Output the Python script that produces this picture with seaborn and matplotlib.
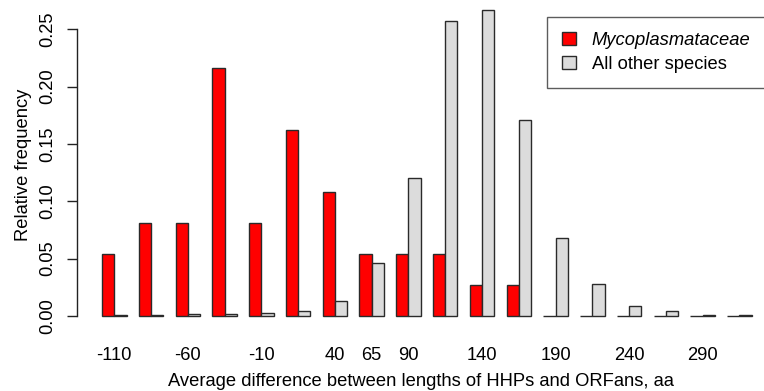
import matplotlib
matplotlib.use("Agg")
import matplotlib.pyplot as plt
import seaborn as sns
import pandas as pd

categories = ['-110', '-85', '-60', '-35', '-10', '15', '40', '65', '90',
              '115', '140', '165', '190', '215', '240', '265', '290', '315']
myco = [0.054, 0.081, 0.081, 0.216, 0.081, 0.162, 0.108, 0.054, 0.054,
        0.054, 0.027, 0.027, 0.0, 0.0, 0.0, 0.0, 0.0, 0.0]
other = [0.001, 0.001, 0.002, 0.002, 0.003, 0.004, 0.013, 0.046, 0.120,
         0.257, 0.267, 0.171, 0.068, 0.028, 0.009, 0.004, 0.001, 0.001]
series_names = ['Mycoplasmataceae', 'All other species']
shown_labels = ['-110', '-60', '-10', '40', '65', '90', '140', '190', '240', '290']
yticks = [0.00, 0.05, 0.10, 0.15, 0.20, 0.25]

plt.rcParams['font.family'] = ['Liberation Sans', 'DejaVu Sans']
FS = 13.2

df = pd.DataFrame({
    'cat': categories * 2,
    'val': myco + other,
    'group': [series_names[0]] * len(categories) + [series_names[1]] * len(categories),
})

W, H = 764, 391
fig = plt.figure(figsize=(W / 100, H / 100), dpi=100)
ax = fig.add_axes([77 / W, (H - 330) / H, 1 - 77 / W, 330 / H])

sns.barplot(data=df, x='cat', y='val', hue='group', order=categories,
            hue_order=series_names, palette=['#FF0000', '#DCDCDC'],
            saturation=1, width=2 / 3, edgecolor='#2a2a2a', linewidth=1.0,
            errorbar=None, ax=ax, legend=False)

ax.set_xlim(-1.013, 17.668)
ax.set_ylim(-(330 - 316) / 1147, 316 / 1147)

for s in ['top', 'right', 'bottom']:
    ax.spines[s].set_visible(False)
ax.spines['left'].set_bounds(0, 0.25)
ax.spines['left'].set_linewidth(1.0)
ax.spines['left'].set_color('#222222')

ax.set_yticks(yticks)
ax.set_yticklabels([f'{v:.2f}' for v in yticks], rotation=90, va='center', fontsize=FS)
ax.tick_params(axis='y', length=7.2, width=1.0, color='#222222', pad=7.5)

idx = [categories.index(l) for l in shown_labels]
ax.set_xticks(idx)
ax.set_xticklabels(shown_labels, fontsize=FS)
ax.tick_params(axis='x', length=0, pad=12.5)

ax.set_xlabel('Average difference between lengths of HHPs and ORFans, aa',
              fontsize=FS, labelpad=6)
ax.set_ylabel('Relative frequency', fontsize=FS, labelpad=5.5)

handles = [plt.Rectangle((0, 0), 1, 1, facecolor=c, edgecolor='#2a2a2a', linewidth=1.0)
           for c in ['#FF0000', '#DCDCDC']]
leg = fig.legend(handles, series_names, loc='upper left',
                 bbox_to_anchor=(547 / W, 1 - 17 / H, 250 / W, 0.0),
                 mode='expand', borderaxespad=0, fontsize=FS,
                 handlelength=0.78, handleheight=0.68, handletextpad=0.85,
                 labelspacing=0.38, borderpad=0.82, fancybox=False,
                 frameon=True, edgecolor='#333333')
leg.get_frame().set_linewidth(1.0)
leg.get_texts()[0].set_style('italic')

fig.savefig('out.png', dpi=100)
